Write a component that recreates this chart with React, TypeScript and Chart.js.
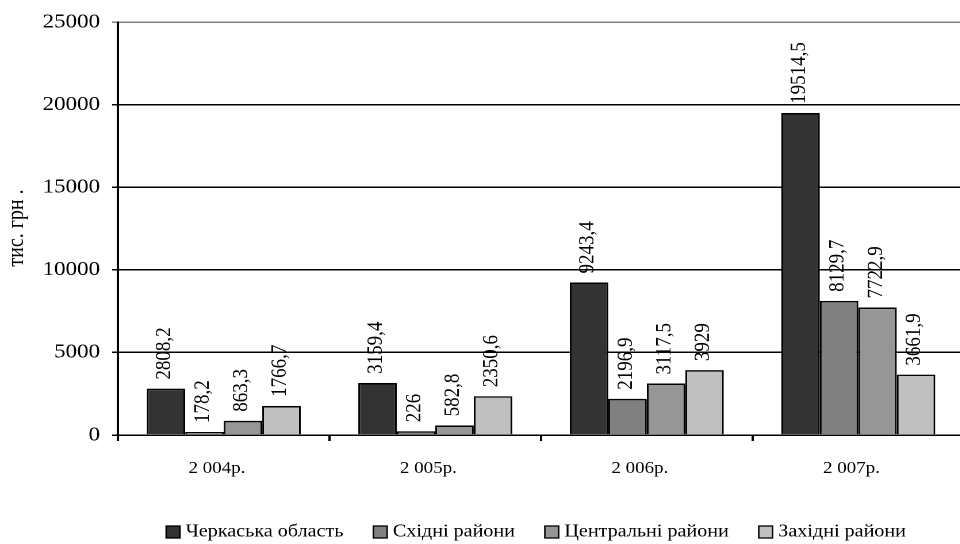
import React, { useEffect, useRef } from "react";
import { Chart, registerables } from "chart.js";

Chart.register(...registerables);

const categories = ["2 004р.", "2 005р.", "2 006р.", "2 007р."];
const seriesNames = ["Черкаська область", "Східні райони", "Центральні райони", "Західні райони"];
const cherkasyRegion = [2808.2, 3159.4, 9243.4, 19514.5];
const easternDistricts = [178.2, 226, 2196.9, 8129.7];
const centralDistricts = [863.3, 582.8, 3117.5, 7722.9];
const westernDistricts = [1766.7, 2350.6, 3929, 3661.9];
const seriesColors = ["#333333", "#808080", "#969696", "#C0C0C0"];
const yMin = 0;
const yMax = 25000;
const yStep = 5000;
const yTitle = "тис. грн .";

const S = 1.15; // horizontal stretch of the reference
const BASE_W = 840;
const H = 544;
const FONT = "'Liberation Serif', 'Times New Roman', serif";

const fmt = (v: number) => String(v).replace(".", ",");

const labelsPlugin = {
  id: "barLabels",
  afterDatasetsDraw(chart: any) {
    const ctx = chart.ctx;
    ctx.save();
    ctx.font = `19px ${FONT}`;
    ctx.fillStyle = "#000";
    ctx.textAlign = "left";
    ctx.textBaseline = "middle";
    chart.data.datasets.forEach((ds: any, di: number) => {
      const meta = chart.getDatasetMeta(di);
      meta.data.forEach((el: any, i: number) => {
        ctx.save();
        ctx.translate(el.x - 1.3, el.y - 9);
        ctx.rotate(-Math.PI / 2);
        ctx.fillText(fmt(ds.data[i]), 0, 0);
        ctx.restore();
      });
    });
    ctx.restore();
  },
};

const decorPlugin = {
  id: "decor",
  afterDraw(chart: any) {
    const ctx = chart.ctx;
    ctx.save();
    // y-axis title
    ctx.font = `20px ${FONT}`;
    ctx.fillStyle = "#000";
    ctx.textAlign = "center";
    ctx.textBaseline = "alphabetic";
    ctx.save();
    ctx.translate(20, 228);
    ctx.rotate(-Math.PI / 2);
    ctx.fillText(yTitle, 0, 0);
    ctx.restore();
    // legend
    ctx.font = `17.5px ${FONT}`;
    ctx.textAlign = "left";
    ctx.textBaseline = "middle";
    const boxW = 12;
    const boxH = 12;
    let x = 144.5;
    const y = 532;
    chart.data.datasets.forEach((ds: any) => {
      ctx.fillStyle = ds.backgroundColor;
      ctx.fillRect(x, y - boxH / 2, boxW, boxH);
      ctx.strokeStyle = "#000";
      ctx.lineWidth = 1.3;
      ctx.strokeRect(x, y - boxH / 2, boxW, boxH);
      x += boxW + 5;
      ctx.fillStyle = "#000";
      ctx.fillText(ds.label, x, y);
      x += ctx.measureText(ds.label).width + 26;
    });
    ctx.restore();
  },
};

export default function App() {
  const ref = useRef<HTMLCanvasElement | null>(null);
  useEffect(() => {
    if (!ref.current) return;
    const data = [cherkasyRegion, easternDistricts, centralDistricts, westernDistricts];
    const chart = new Chart(ref.current, {
      type: "bar",
      data: {
        labels: categories,
        datasets: data.map((d, i) => ({
          label: seriesNames[i],
          data: d,
          backgroundColor: seriesColors[i],
          borderColor: "#000",
          borderWidth: 1.6,
          categoryPercentage: 0.728,
          barPercentage: 1.0,
        })),
      },
      options: {
        animation: false,
        responsive: true,
        maintainAspectRatio: false,
        devicePixelRatio: 2,
        layout: { padding: { top: 20, right: 1.7, bottom: 0, left: 0 } },
        plugins: {
          legend: { display: false },
          tooltip: { enabled: false },
          title: { display: false },
        },
        scales: {
          x: {
            offset: true,
            afterFit: (scale: any) => {
              scale.height = 109;
            },
            grid: {
              display: true,
              offset: true,
              drawOnChartArea: false,
              drawTicks: true,
              tickLength: 6,
              color: "#000",
              lineWidth: 2,
            },
            border: { display: true, color: "#000", width: 1.5 },
            ticks: {
              color: "#000",
              font: { family: FONT, size: 16.5 },
              padding: 18,
              labelOffset: -6,
              maxRotation: 0,
            },
          },
          y: {
            min: yMin,
            max: yMax,
            afterFit: (scale: any) => {
              scale.width = 102.6;
            },
            grid: {
              color: (c: any) => (c.tick && c.tick.value === yMax ? "#808080" : "#000"),
              lineWidth: 1.5,
              drawTicks: true,
              tickLength: 5.2,
            },
            border: { display: true, color: "#000", width: 2 },
            ticks: {
              stepSize: yStep,
              color: "#000",
              font: { family: FONT, size: 20 },
              padding: 10.4,
              callback: (v: any) => String(v),
            },
          },
        },
      },
      plugins: [labelsPlugin, decorPlugin],
    });
    return () => chart.destroy();
  }, []);

  return (
    <div
      style={{
        position: "fixed",
        left: 0,
        top: 0,
        width: 960,
        height: H,
        overflow: "hidden",
        background: "#fff",
      }}
    >
      <div
        style={{
          width: BASE_W,
          height: H,
          transform: `scaleX(${S})`,
          transformOrigin: "0 0",
        }}
      >
        <canvas ref={ref} />
      </div>
    </div>
  );
}
